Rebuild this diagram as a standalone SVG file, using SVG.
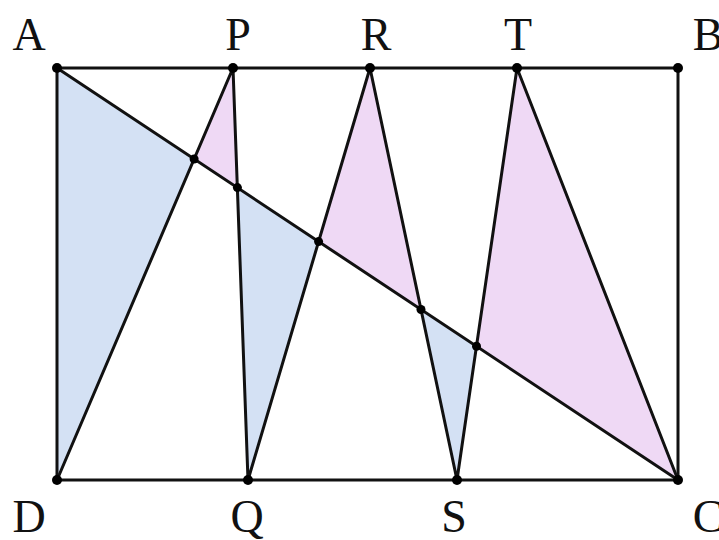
<svg xmlns="http://www.w3.org/2000/svg" width="719" height="540" viewBox="0 0 719 540">
<style>
.lbl{font-family:"Liberation Serif","Times New Roman",serif;font-size:46px;fill:#111;text-anchor:middle}
.ln{stroke:#111;stroke-width:3;fill:none;stroke-linecap:round;stroke-linejoin:round}
.blue{fill:#d4e1f4;stroke:none}
.pink{fill:#efd9f5;stroke:none}
.dot{fill:#000}
</style>
<rect width="719" height="540" fill="#fff"/>
<g id="regions">
<polygon class="blue" points="57,68 57,480 194.1,159"/>
<polygon class="pink" points="233,68 194.1,159 237.4,187.6"/>
<polygon class="blue" points="237.4,187.6 248,480 318.6,241.6"/>
<polygon class="pink" points="370,68 318.6,241.6 421,309.5"/>
<polygon class="blue" points="421,309.5 457,480 476.5,346.3"/>
<polygon class="pink" points="517,68 476.5,346.3 678,480"/>
</g>
<g id="connectors">
<polygon class="ln" points="57,68 678,68 678,480 57,480"/>
<line class="ln" x1="57" y1="68" x2="678" y2="480"/>
<polyline class="ln" points="57,480 233,68 248,480 370,68 457,480 517,68 678,480"/>
</g>
<g id="intersections">
<circle class="dot" cx="194.1" cy="159" r="4.5"/>
<circle class="dot" cx="237.4" cy="187.6" r="4.5"/>
<circle class="dot" cx="318.6" cy="241.6" r="4.5"/>
<circle class="dot" cx="421" cy="309.5" r="4.5"/>
<circle class="dot" cx="476.5" cy="346.3" r="4.5"/>
</g>
<g id="A"><circle class="dot" cx="57" cy="68" r="5"/><text class="lbl" x="29" y="50">A</text></g>
<g id="P"><circle class="dot" cx="233" cy="68" r="5"/><text class="lbl" x="238" y="50">P</text></g>
<g id="R"><circle class="dot" cx="370" cy="68" r="5"/><text class="lbl" x="376" y="50">R</text></g>
<g id="T"><circle class="dot" cx="517" cy="68" r="5"/><text class="lbl" x="518" y="50">T</text></g>
<g id="B"><circle class="dot" cx="678" cy="68" r="5"/><text class="lbl" x="708" y="50">B</text></g>
<g id="D"><circle class="dot" cx="57" cy="480" r="5"/><text class="lbl" x="29" y="532">D</text></g>
<g id="Q"><circle class="dot" cx="248" cy="480" r="5"/><text class="lbl" x="247" y="532">Q</text></g>
<g id="S"><circle class="dot" cx="457" cy="480" r="5"/><text class="lbl" x="454" y="532">S</text></g>
<g id="C"><circle class="dot" cx="678" cy="480" r="5"/><text class="lbl" x="708" y="532">C</text></g>
</svg>
